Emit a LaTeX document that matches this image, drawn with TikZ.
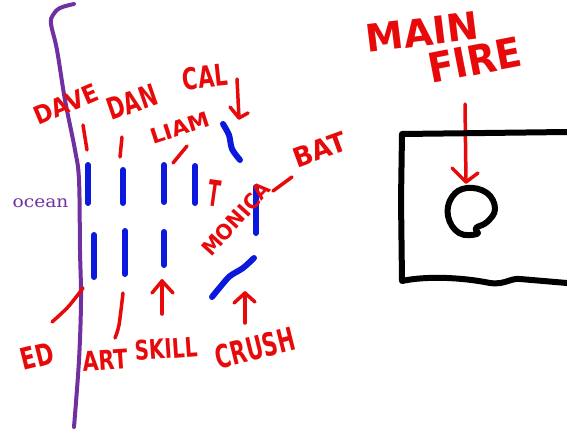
\documentclass[tikz,border=0pt]{standalone}
\usepackage{fontspec}
\newfontfamily\handfont{DejaVu Sans}
\newfontfamily\oceanfont{DejaVu Serif}
\definecolor{fred}{RGB}{232,10,10}
\definecolor{fblue}{RGB}{10,25,220}
\definecolor{fpurple}{RGB}{112,48,160}
\tikzset{
  hand/.style={text=fred, inner sep=0pt, font=\handfont\bfseries\fontsize{#1}{#1}\selectfont},
  redline/.style={draw=fred, line width=3.5pt, line cap=round, line join=round},
  blueline/.style={draw=fblue, line width=6pt, line cap=round, line join=round},
  blackline/.style={draw=black, line width=6pt, line cap=round, line join=round},
  oceanline/.style={draw=fpurple, line width=4pt, line cap=round, line join=round}
}
\begin{document}
\begin{tikzpicture}[x=1pt,y=-1pt]
\path[use as bounding box, fill=white] (0,0) rectangle (567,428);

% ocean coast
\draw[oceanline] plot[smooth, tension=0.6] coordinates {(74,4) (60,8) (53,15) (51,24) (57,50) (65,100) (75,150) (79,180) (80,250) (81,300) (79,360) (74,427)};
\node[text=fpurple, inner sep=0pt, font=\oceanfont\fontsize{16.5}{16.5}\selectfont, xscale=1.13, anchor=base] (ocean) at (40.5,207) {ocean};

% blue dashes, top row
\coordinate (t1a) at (88,165); \coordinate (t1b) at (88,203);
\coordinate (t2a) at (123,170); \coordinate (t2b) at (123,203);
\coordinate (t3a) at (164,165); \coordinate (t3b) at (164,202);
\coordinate (t4a) at (195,166); \coordinate (t4b) at (195,203);
\draw[blueline] (t1a) -- (t1b);
\draw[blueline] (t2a) -- (t2b);
\draw[blueline] (t3a) -- (t3b);
\draw[blueline] (t4a) -- (t4b);
% bottom row
\coordinate (b1a) at (94,235); \coordinate (b1b) at (94,277);
\coordinate (b2a) at (125,231); \coordinate (b2b) at (125,274);
\coordinate (b3a) at (164,232); \coordinate (b3b) at (164,265);
\draw[blueline] (b1a) -- (b1b);
\draw[blueline] (b2a) -- (b2b);
\draw[blueline] (b3a) -- (b3b);
% right side
\coordinate (r1a) at (256,187); \coordinate (r1b) at (256,233);
\draw[blueline] (r1a) -- (r1b);
\draw[blueline] plot[smooth, tension=0.5] coordinates {(223,124) (229,135) (232,149) (240,160)};
\draw[blueline] plot[smooth, tension=0.5] coordinates {(212,297) (221,286) (230,276) (243,268) (254,258)};

% red labels
\node[hand=25, rotate=23, xscale=0.9] (dave) at (66,104) {DAVE};
\node[hand=30, rotate=19, xscale=0.7] (dan) at (132,102) {DAN};
\node[hand=30, rotate=6, xscale=0.7] (cal) at (205,77) {CAL};
\node[hand=21, rotate=18, xscale=1.05] (liam) at (180,128) {LIAM};
\node[hand=36, rotate=-8, xscale=0.5] (t) at (214,193) {T};
\node[hand=21, rotate=48, xscale=0.95] (monica) at (236,219) {MONICA};
\node[hand=27, rotate=20, xscale=0.95] (bat) at (320,150) {BAT};
\node[hand=30, rotate=14, xscale=0.73] (ed) at (37,356) {ED};
\node[hand=27, rotate=4, xscale=0.77] (art) at (105,360) {ART};
\node[hand=27, rotate=4, xscale=0.74] (skill) at (166,349) {SKILL};
\node[hand=32, rotate=14, xscale=0.65] (crush) at (255,348) {CRUSH};
\node[hand=38, rotate=7] (main) at (422,32) {MAIN};
\node[hand=41, rotate=11, xscale=0.92] (fire) at (475,60) {FIRE};

% red pointer lines
\coordinate (dv1) at (83,125); \coordinate (dv2) at (87,150);
\draw[redline] (dv1) -- (dv2);
\coordinate (dn1) at (122,137); \coordinate (dn2) at (120,157);
\draw[redline] (dn1) -- (dn2);
\coordinate (lm1) at (187,146); \coordinate (lm2) at (173,163);
\draw[redline] (lm1) -- (lm2);
\coordinate (cl1) at (237,79); \coordinate (cl2) at (239,118);
\draw[redline] (cl1) -- (cl2);
\draw[redline] (230,107) -- (cl2) -- (248,113);
\coordinate (bt1) at (273,191); \coordinate (bt2) at (292,177);
\draw[redline] (bt1) -- (bt2);
\draw[redline] plot[smooth] coordinates {(52,322) (68,307) (83,288)};
\draw[redline] plot[smooth] coordinates {(115,338) (119,325) (123,293)};
\coordinate (sk1) at (162,314); \coordinate (sk2) at (162,281);
\draw[redline] (sk1) -- (sk2);
\draw[redline] (152,293) -- (sk2) -- (173,293);
\coordinate (cr1) at (245,323); \coordinate (cr2) at (245,293);
\draw[redline] (cr1) -- (cr2);
\draw[redline] (234,303) -- (cr2) -- (255,302);
\coordinate (mf1) at (465,104); \coordinate (mf2) at (466,182);
\draw[redline] (mf1) -- (mf2);
\draw[redline] (452,168) -- (mf2) -- (478,173);

% main house / fire
\draw[blackline] (567,132) -- (402,134) -- (401,200) -- (402,281)
  .. controls (425,276) and (460,277) .. (490,283)
  .. controls (505,285) and (510,278) .. (520,279)
  -- (567,283);
\draw[blackline] plot[smooth cycle, tension=0.7] coordinates {(467,188) (487,193) (495,209) (487,222) (476,228) (477,234) (459,233) (448,216) (452,197)};
\end{tikzpicture}
\end{document}
